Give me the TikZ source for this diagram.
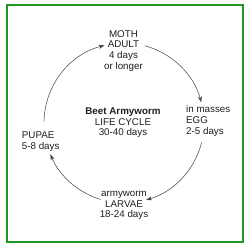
\documentclass[tikz,border=0pt]{standalone}
\usepackage{fontspec}
\setmainfont{Liberation Sans}
\usetikzlibrary{arrows.meta}
\definecolor{framegreen}{RGB}{34,150,34}
\definecolor{ink}{RGB}{30,30,30}
\begin{document}
\begin{tikzpicture}[x=1pt,y=-1pt,
  lbl/.style={inner sep=0pt, font=\fontsize{9.8}{10.6}\selectfont, text=ink},
  cyc/.style={draw=ink!85, line width=0.5pt, -{Stealth[length=6pt,width=4pt]}}]
\useasboundingbox (0,0) rectangle (251,250);
\fill[white] (0,0) rectangle (251,250);
\draw[framegreen, line width=2pt] (6.7,5.3) rectangle (243,242);
% texts (anchor base = baseline of the last line)
\node[lbl, align=center, anchor=base] (adult) at (123.5,69) {MOTH\\ADULT\\4 days\\or longer};
\node[lbl, align=left, anchor=base west] (egg) at (186,134) {in masses\\EGG\\2-5 days};
\node[lbl, align=center, anchor=base] (larvae) at (124,217.7) {armyworm\\LARVAE\\18-24 days};
\node[lbl, align=left, anchor=base west] (pupae) at (21.7,149) {PUPAE\\5-8 days};
\node[lbl, align=center, anchor=base] (title) at (123,135.7) {\textbf{Beet Armyworm}\\LIFE CYCLE\\30-40 days};
% cycle
\coordinate (C) at (124,123);
\coordinate (s1) at ([shift={(-75:80)}]C);
\coordinate (s2) at ([shift={(14:80)}]C);
\coordinate (s3) at ([shift={(107:80)}]C);
\coordinate (s4) at ([shift={(181:80)}]C);
\draw[cyc] (s1) arc[start angle=-75, end angle=-15, radius=80];
\draw[cyc] (s2) arc[start angle=14, end angle=74, radius=80];
\draw[cyc] (s3) arc[start angle=107, end angle=157, radius=80];
\draw[cyc] (s4) arc[start angle=181, end angle=256, radius=80];
\end{tikzpicture}
\end{document}
